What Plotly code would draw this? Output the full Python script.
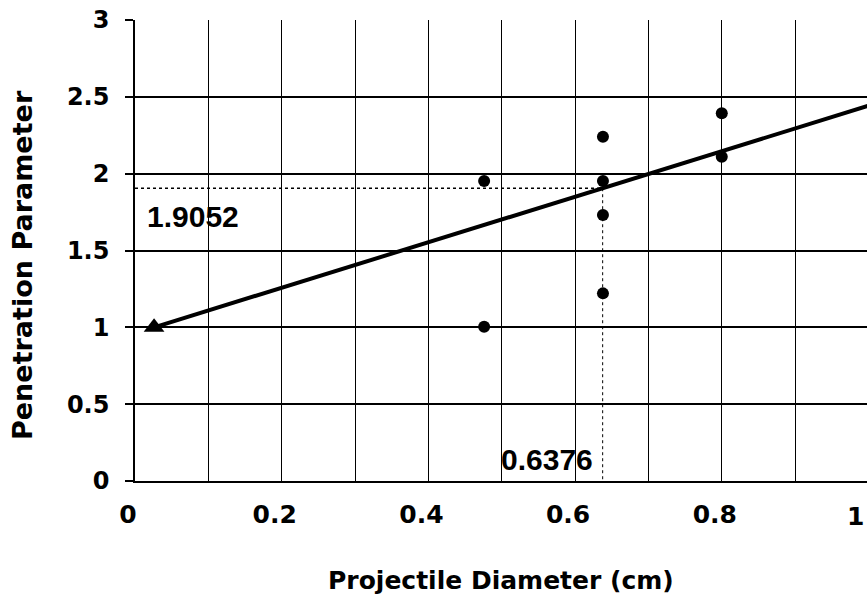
import plotly.graph_objects as go

# Measured penetration parameter against projectile diameter
diameter_cm = [0.476, 0.476, 0.638, 0.638, 0.638, 0.638, 0.8, 0.8]
penetration = [1.952, 1.004, 2.240, 1.952, 1.731, 1.221, 2.393, 2.110]

# Reference (origin) point of the fit, drawn as a triangle
origin_x = [0.026]
origin_y = [1.0]

# Straight fit line end points
fit_x = [0.026, 1.0]
fit_y = [1.0, 2.442]

# Value
read_x = 0.6376
read_y = 1.9052

# Axis ticks
x_tick_vals = [0, 0.2, 0.4, 0.6, 0.8, 1]
x_tick_text = ["0", "0.2", "0.4", "0.6", "0.8", "1"]
y_tick_vals = [0, 0.5, 1, 1.5, 2, 2.5, 3]
y_tick_text = ["0", "0.5", "1", "1.5", "2", "2.5", "3"]

# Visible x extent: the right frame edge falls just short of 1
X_MAX = 0.998

X_TICK_FONT = dict(family="DejaVu Sans", size=25, color="black", weight="bold")
Y_TICK_FONT = dict(family="DejaVu Sans", size=24, color="black", weight="bold")
NUM_FONT = dict(family="Liberation Sans", size=30, color="black", weight="bold")

fig = go.Figure()

# Dotted read-off guides
fig.add_trace(go.Scatter(
    x=[0, read_x], y=[read_y, read_y], mode="lines",
    line=dict(color="black", width=1.6, dash="dot"), hoverinfo="skip"))
fig.add_trace(go.Scatter(
    x=[read_x, read_x], y=[read_y, 0], mode="lines",
    line=dict(color="black", width=1, dash="dot"), hoverinfo="skip"))

# Fit line
fig.add_trace(go.Scatter(
    x=fit_x, y=fit_y, mode="lines",
    line=dict(color="black", width=4)))

# Data points
fig.add_trace(go.Scatter(
    x=diameter_cm, y=penetration, mode="markers",
    marker=dict(color="black", size=12, symbol="circle")))

# Origin triangle
fig.add_trace(go.Scatter(
    x=origin_x, y=origin_y, mode="markers",
    marker=dict(color="black", size=18, symbol="triangle-up")))

# The last x tick lies beyond the frame edge, so its label is placed by hand
edge_labels = [
    dict(text=x_tick_text[-1], xref="paper", yref="paper",
         x=1.0, y=0, yanchor="top", xanchor="right",
         xshift=-1, yshift=-19, showarrow=False, font=X_TICK_FONT),
]

fig.update_layout(
    width=867, height=604,
    margin=dict(l=135, r=0, t=20, b=123),
    paper_bgcolor="white", plot_bgcolor="white",
    showlegend=False,
    xaxis=dict(
        range=[0, X_MAX], tickmode="array",
        tickvals=x_tick_vals, ticktext=x_tick_text,
        showgrid=True, gridcolor="black", gridwidth=1.2,
        minor=dict(tickmode="linear", tick0=0, dtick=0.1, showgrid=True,
                   gridcolor="black", gridwidth=1.2, ticks=""),
        showline=True, linecolor="black", linewidth=2,
        ticks="", zeroline=False, automargin=False,
        tickfont=X_TICK_FONT,
        ticklabelshift=-7, ticklabelstandoff=10,
    ),
    yaxis=dict(
        range=[0, 3], tickmode="array",
        tickvals=y_tick_vals, ticktext=y_tick_text,
        showgrid=True, gridcolor="black", gridwidth=2,
        showline=True, linecolor="black", linewidth=1.5,
        ticks="outside", ticklen=8, tickwidth=1.5, tickcolor="black",
        zeroline=False, automargin=False,
        tickfont=Y_TICK_FONT, ticklabelstandoff=11,
    ),
    annotations=edge_labels + [
        dict(text="Penetration Parameter", xref="paper", yref="paper",
             x=-0.1544, y=0.4685, textangle=-90, showarrow=False,
             xanchor="center", yanchor="middle",
             font=dict(family="DejaVu Sans", size=27, color="black", weight="bold")),
        dict(text="Projectile Diameter (cm)", xref="paper", yref="paper",
             x=0.5, y=-0.2169, showarrow=False,
             xanchor="center", yanchor="middle",
             font=dict(family="DejaVu Sans", size=25, color="black", weight="bold")),
        dict(text=f"{read_y:.4f}", xref="x", yref="y",
             x=0.0792, y=1.7245, showarrow=False,
             xanchor="center", yanchor="middle", font=NUM_FONT),
        dict(text=f"{read_x:.4f}", xref="x", yref="y",
             x=0.562, y=0.143, showarrow=False,
             xanchor="center", yanchor="middle", font=NUM_FONT),
    ],
)

fig.write_html("out.html")
